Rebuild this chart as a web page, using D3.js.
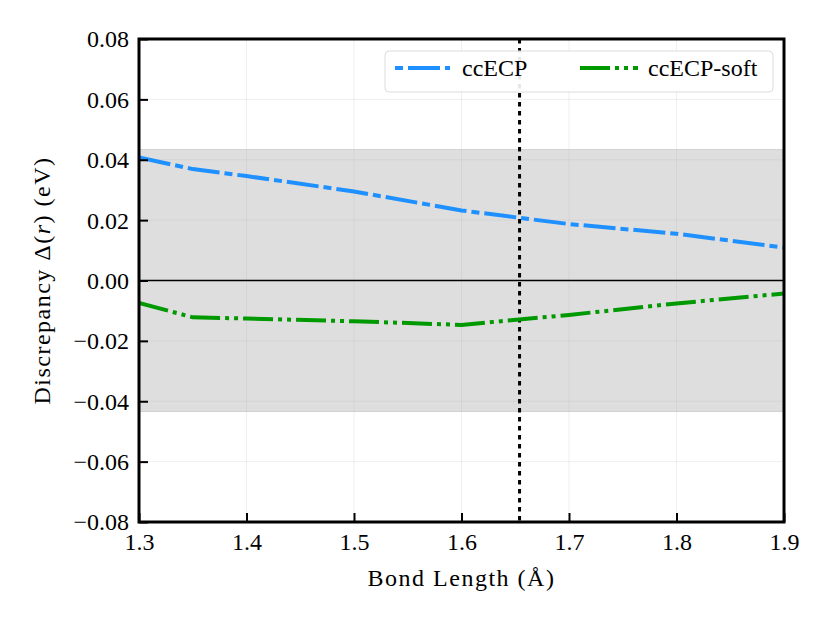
<!DOCTYPE html>
<html>
<head>
<meta charset="utf-8">
<script src="https://cdn.jsdelivr.net/npm/d3@7"></script>
<style>
  body { margin: 0; background: #fff; }
  svg { display: block; }
</style>
</head>
<body>
<svg id="chart" width="831" height="623" font-family="'Liberation Serif', 'Times New Roman', 'DejaVu Serif', serif"></svg>
<script>
// ---- data ----
const bondLengths = [1.3, 1.35, 1.4, 1.5, 1.6, 1.7, 1.8, 1.9];
const ccECP      = [0.0408, 0.0369, 0.0346, 0.0295, 0.0232, 0.0187, 0.0155, 0.0109];
const ccECPsoft  = [-0.0074, -0.0122, -0.0126, -0.0135, -0.0147, -0.0114, -0.0076, -0.0043];
const seriesNames = ["ccECP", "ccECP-soft"];
const xTicks = [1.3, 1.4, 1.5, 1.6, 1.7, 1.8, 1.9];
const yTicks = [-0.08, -0.06, -0.04, -0.02, 0.00, 0.02, 0.04, 0.06, 0.08];
const chemAccuracy = 0.0434;   // shaded band +/-
const equilibrium = 1.654;     // vertical dotted line

const FONT = "'Liberation Serif', 'Times New Roman', 'DejaVu Serif', serif";

// ---- layout ----
const svg = d3.select("#chart");
const L = 139, R = 784, T = 39, B = 522;
const x = d3.scaleLinear().domain([1.3, 1.9]).range([L, R]);
const y = d3.scaleLinear().domain([-0.08, 0.08]).range([B, T]);

const defs = svg.append("defs");
defs.append("clipPath").attr("id", "clip")
  .append("rect").attr("x", L).attr("y", T).attr("width", R - L).attr("height", B - T);

const plot = svg.append("g").attr("clip-path", "url(#clip)");

// shaded band
plot.append("rect")
  .attr("x", L).attr("width", R - L)
  .attr("y", y(chemAccuracy)).attr("height", y(-chemAccuracy) - y(chemAccuracy))
  .attr("fill", "#dedede").attr("stroke", "#d2d2d2").attr("stroke-width", 1);

// grid
plot.append("g").selectAll("line").data(xTicks.slice(1, -1)).join("line")
  .attr("x1", d => x(d)).attr("x2", d => x(d)).attr("y1", T).attr("y2", B)
  .attr("stroke", "#b0b0b0").attr("stroke-opacity", 0.2).attr("stroke-width", 1);
plot.append("g").selectAll("line").data(yTicks.slice(1, -1)).join("line")
  .attr("y1", d => y(d)).attr("y2", d => y(d)).attr("x1", L).attr("x2", R)
  .attr("stroke", "#b0b0b0").attr("stroke-opacity", 0.2).attr("stroke-width", 1);

// zero line
plot.append("line").attr("x1", L).attr("x2", R).attr("y1", y(0)).attr("y2", y(0))
  .attr("stroke", "#000").attr("stroke-width", 1.5);

// vertical dotted line
plot.append("line").attr("x1", x(equilibrium)).attr("x2", x(equilibrium))
  .attr("y1", T).attr("y2", B)
  .attr("stroke", "#000").attr("stroke-width", 3).attr("stroke-dasharray", "4.5,4.5");

// series lines
const line = d3.line().x(d => x(d[0])).y(d => y(d[1]));
const blueDash = "32,5,8,5";
const greenDash = "30,5,4,5,4,5";
plot.append("path").datum(bondLengths.map((b, i) => [b, ccECP[i]]))
  .attr("d", line).attr("fill", "none").attr("stroke", "#1e90ff")
  .attr("stroke-width", 4).attr("stroke-dasharray", blueDash);
plot.append("path").datum(bondLengths.map((b, i) => [b, ccECPsoft[i]]))
  .attr("d", line).attr("fill", "none").attr("stroke", "#009900")
  .attr("stroke-width", 4).attr("stroke-dasharray", greenDash);

// axes (ticks inward)
const fmtY = d => (d < 0 ? "\u2212" : "") + Math.abs(d).toFixed(2);
const xAxis = d3.axisBottom(x).tickValues(xTicks).tickFormat(d3.format(".1f"))
  .tickSizeInner(-9).tickSizeOuter(0).tickPadding(19);
const yAxis = d3.axisLeft(y).tickValues(yTicks).tickFormat(fmtY)
  .tickSizeInner(-9).tickSizeOuter(0).tickPadding(19);

const gx = svg.append("g").attr("transform", `translate(0,${B})`).call(xAxis);
const gy = svg.append("g").attr("transform", `translate(${L},0)`).call(yAxis);
[gx, gy].forEach(g => {
  g.attr("font-family", FONT).attr("font-size", 24);
  g.select(".domain").remove();
  g.selectAll(".tick line").attr("stroke", "#000").attr("stroke-width", 2);
  g.selectAll(".tick text").style("font-family", FONT).style("font-size", "24px").attr("fill", "#000");
});
gx.selectAll(".tick text").attr("dy", "0.75em").attr("y", 10);
gy.selectAll(".tick text").attr("x", -10).attr("dy", "0.33em");

// frame
svg.append("rect").attr("x", L).attr("y", T).attr("width", R - L).attr("height", B - T)
  .attr("fill", "none").attr("stroke", "#000").attr("stroke-width", 3);

// axis labels
svg.append("text").attr("x", (L + R) / 2).attr("y", 586)
  .attr("text-anchor", "middle").style("font-family", FONT).style("font-size", "24px")
  .style("letter-spacing", "1.5px")
  .text("Bond Length (\u00C5)");
const yl = svg.append("text")
  .attr("transform", `translate(50,${(T + B) / 2}) rotate(-90)`)
  .attr("text-anchor", "middle").style("font-family", FONT).style("font-size", "24px")
  .style("letter-spacing", "1.5px");
yl.append("tspan").text("Discrepancy \u0394(");
yl.append("tspan").style("font-style", "italic").text("r");
yl.append("tspan").text(") (eV)");

// legend
const lg = svg.append("g");
lg.append("rect").attr("x", 385).attr("y", 51).attr("width", 388).attr("height", 41)
  .attr("rx", 4).attr("fill", "#fff").attr("fill-opacity", 0.9)
  .attr("stroke", "#dcdcdc").attr("stroke-width", 1);
const legendItems = [
  { name: seriesNames[0], color: "#1e90ff", dash: blueDash, offset: 37, x0: 395, x1: 450, tx: 462 },
  { name: seriesNames[1], color: "#009900", dash: greenDash, offset: 0, x0: 580, x1: 638, tx: 648 }
];
legendItems.forEach(it => {
  lg.append("line").attr("x1", it.x0).attr("x2", it.x1).attr("y1", 68).attr("y2", 68)
    .attr("stroke", it.color).attr("stroke-width", 4)
    .attr("stroke-dasharray", it.dash).attr("stroke-dashoffset", it.offset);
  lg.append("text").attr("x", it.tx).attr("y", 76)
    .style("font-family", FONT).style("font-size", "24px").text(it.name);
});
</script>
</body>
</html>
